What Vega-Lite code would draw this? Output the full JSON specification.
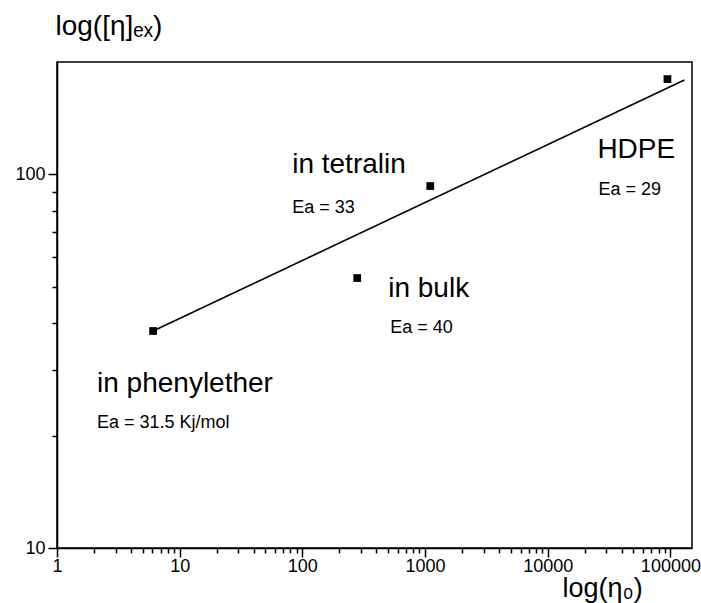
{
  "$schema": "https://vega.github.io/schema/vega-lite/v6.json",
  "width": 635,
  "height": 486,
  "autosize": {"type": "none"},
  "padding": {"left": 57, "top": 62, "right": 9, "bottom": 55},
  "background": "white",
  "config": {
    "view": {"stroke": "black", "strokeWidth": 1.5},
    "font": "Liberation Sans",
    "axis": {
      "domainColor": "black", "domainWidth": 1.5, "tickColor": "black", "tickWidth": 1.5,
      "labelColor": "black", "labelFont": "Liberation Sans", "labelFontSize": 18,
      "titleFont": "Liberation Sans", "titleFontWeight": "normal", "titleColor": "black",
      "grid": false, "labelFlush": false, "labelOverlap": false
    }
  },
  "datasets": {
    "fit": [{"eta0": 6.07, "etaex": 38.1}, {"eta0": 130000, "etaex": 179}],
    "pts": [
      {"sample": "in phenylether", "eta0": 6.07, "etaex": 38.1},
      {"sample": "in bulk", "eta0": 280, "etaex": 52.8},
      {"sample": "in tetralin", "eta0": 1103, "etaex": 93.1},
      {"sample": "HDPE", "eta0": 94600, "etaex": 180}
    ],
    "labels": [
      {"kind": "name", "text": "in tetralin", "eta0": 82.6, "etaex": 101},
      {"kind": "ea", "text": "Ea = 33", "eta0": 82.6, "etaex": 78.9},
      {"kind": "name", "text": "in bulk", "eta0": 501, "etaex": 47.0},
      {"kind": "ea", "text": "Ea = 40", "eta0": 520, "etaex": 37.7},
      {"kind": "name", "text": "HDPE", "eta0": 25400, "etaex": 110.7},
      {"kind": "ea", "text": "Ea = 29", "eta0": 25900, "etaex": 88.1},
      {"kind": "name", "text": "in phenylether", "eta0": 2.12, "etaex": 26.2},
      {"kind": "ea", "text": "Ea = 31.5 Kj/mol", "eta0": 2.12, "etaex": 20.9}
    ]
  },
  "resolve": {"axis": {"x": "independent", "y": "independent"}},
  "layer": [
    {
      "data": {"name": "fit"},
      "mark": {"type": "line", "color": "black", "strokeWidth": 1.6},
      "encoding": {
        "x": {"field": "eta0", "type": "quantitative",
          "scale": {"type": "log", "domain": [1, 150000], "nice": false},
          "axis": {"orient": "bottom", "values": [1, 10, 100, 1000, 10000, 100000], "format": "d",
            "tickSize": 9, "labelPadding": 0,
            "title": "log(η₀)", "titleFontSize": 27, "titleAlign": "left", "titleBaseline": "alphabetic",
            "titleX": 505, "titleY": 48, "titleAnchor": null}},
        "y": {"field": "etaex", "type": "quantitative",
          "scale": {"type": "log", "domain": [10, 200], "nice": false},
          "axis": {"orient": "left", "values": [10, 100], "format": "d",
            "tickSize": 9, "labelPadding": 3,
            "title": "log([η]ₑₓ)", "titleFontSize": 28, "titleAngle": 0, "titleAlign": "left",
            "titleBaseline": "alphabetic", "titleX": -2, "titleY": -28}}
      }
    },
    {
      "data": {"name": "pts"},
      "mark": {"type": "point", "shape": "square", "filled": true, "color": "black", "size": 60, "opacity": 1},
      "encoding": {
        "x": {"field": "eta0", "type": "quantitative",
          "axis": {"orient": "bottom", "values": [2,3,4,5,6,7,8,9,20,30,40,50,60,70,80,90,200,300,400,500,600,700,800,900,2000,3000,4000,5000,6000,7000,8000,9000,20000,30000,40000,50000,60000,70000,80000,90000],
            "tickSize": 5, "labels": false, "domain": false, "title": null}},
        "y": {"field": "etaex", "type": "quantitative",
          "axis": {"orient": "left", "values": [20,30,40,50,60,70,80,90],
            "tickSize": 5, "labels": false, "domain": false, "title": null}}
      }
    },
    {
      "data": {"name": "labels"},
      "transform": [{"filter": "datum.kind === 'name'"}],
      "mark": {"type": "text", "align": "left", "baseline": "alphabetic", "fontSize": 28, "color": "black", "font": "Liberation Sans"},
      "encoding": {
        "x": {"field": "eta0", "type": "quantitative", "axis": null},
        "y": {"field": "etaex", "type": "quantitative", "axis": null},
        "text": {"field": "text"}
      }
    },
    {
      "data": {"name": "labels"},
      "transform": [{"filter": "datum.kind === 'ea'"}],
      "mark": {"type": "text", "align": "left", "baseline": "alphabetic", "fontSize": 18, "color": "black", "font": "Liberation Sans"},
      "encoding": {
        "x": {"field": "eta0", "type": "quantitative", "axis": null},
        "y": {"field": "etaex", "type": "quantitative", "axis": null},
        "text": {"field": "text"}
      }
    }
  ]
}
